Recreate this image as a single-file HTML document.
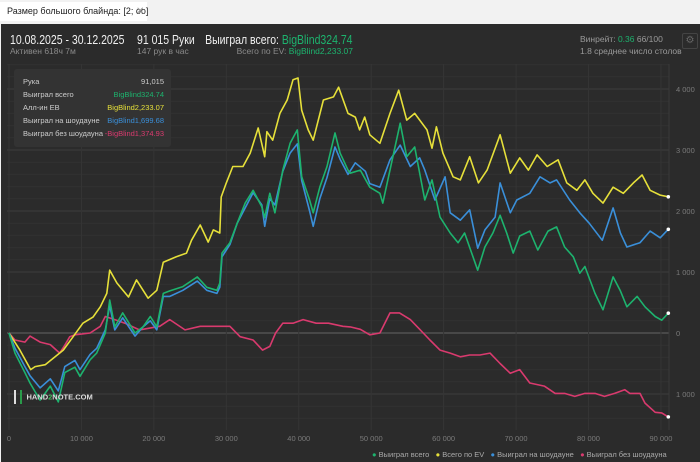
<!DOCTYPE html>
<html><head><meta charset="utf-8">
<style>
html,body{margin:0;padding:0;width:700px;height:462px;overflow:hidden;background:#f2f2f2;font-family:"Liberation Sans","Noto Sans CJK SC",sans-serif;}
.tab{position:absolute;left:0;top:2px;height:19px;width:147px;background:#fff;font-size:9px;color:#222;line-height:19px;padding-left:7px;box-sizing:border-box;white-space:nowrap;}
.tab .x{position:absolute;left:136px;top:0;color:#999;font-size:10px;}
.panel{position:absolute;left:1px;top:24px;width:699px;height:438px;background:#2b2b2b;}
.t{position:absolute;white-space:nowrap;}
.h{font-size:12.5px;color:#f0f0f0;transform:scaleX(0.84);transform-origin:left top;}
.hr{font-size:12.5px;color:#f0f0f0;transform:scaleX(0.84);transform-origin:right top;}
.s{font-size:8.5px;color:#8a8a8a;}
</style></head><body>
<div class="tab">Размер большого блайнда: [2; oo]<span class="x">✕</span></div>
<div class="panel"></div>
<div class="t h" style="left:10px;top:33px;">10.08.2025 - 30.12.2025</div>
<div class="t s" style="left:10px;top:46px;">Активен 618ч 7м</div>
<div class="t h" style="left:137px;top:33px;">91 015 Руки</div>
<div class="t s" style="left:137px;top:46px;">147 рук в час</div>
<div class="t hr" style="right:347px;top:33px;">Выиграл всего: <span style="color:#1db36e">BigBlind324.74</span></div>
<div class="t s" style="right:347px;top:46px;">Всего по EV: <span style="color:#1db36e">BigBlind2,233.07</span></div>
<div class="t" style="left:580px;top:34px;font-size:8.5px;color:#9a9a9a;">Винрейт: <span style="color:#1db36e">0.36</span> 66/100</div>
<div class="t" style="left:580px;top:46px;font-size:8.5px;color:#9a9a9a;">1.8 среднее число столов</div>
<div class="t" style="left:682px;top:33px;width:14px;height:14px;border:1px solid #444;border-radius:2px;color:#666;font-size:10px;line-height:14px;text-align:center;">⚙</div>
<svg id="chart" width="700" height="462" style="position:absolute;left:0;top:0"></svg>
<div class="t" style="left:14px;top:69px;width:157px;height:78px;background:#333;border-radius:3px;font-size:7.5px;color:#ccc;">
<div class="t" style="left:9px;top:8px">Рука</div><div class="t" style="right:7px;top:8px">91,015</div>
<div class="t" style="left:9px;top:21px">Выиграл всего</div><div class="t" style="right:7px;top:21px;color:#1db36e">BigBlind324.74</div>
<div class="t" style="left:9px;top:34px">Алл-ин ЕВ</div><div class="t" style="right:7px;top:34px;color:#e6e03a">BigBlind2,233.07</div>
<div class="t" style="left:9px;top:47px">Выиграл на шоудауне</div><div class="t" style="right:7px;top:47px;color:#3a8fd9">BigBlind1,699.68</div>
<div class="t" style="left:9px;top:60px">Выиграл без шоудауна</div><div class="t" style="right:7px;top:60px;color:#d93a6e">-BigBlind1,374.93</div>
</div>
<div class="t" style="left:14px;top:388px;"><span style="display:inline-block;width:8px;height:14px;border-left:2px solid #ddd;border-right:2px solid #2a9a4a;vertical-align:middle;box-sizing:border-box"></span> <span style="font-size:7.5px;font-weight:bold;color:#ddd;vertical-align:middle">HAND<span style="color:#3fbf5f">2</span>NOTE.COM</span></div>
<div class="t" style="left:372px;top:450px;font-size:7.5px;color:#aaa;">
<span><span style="color:#1db36e">●</span> Выиграл всего</span>&nbsp;&nbsp;
<span><span style="color:#e6e03a">●</span> Всего по EV</span>&nbsp;&nbsp;
<span><span style="color:#3a8fd9">●</span> Выиграл на шоудауне</span>&nbsp;&nbsp;
<span><span style="color:#d93a6e">●</span> Выиграл без шоудауна</span>
</div>
<script>
const xTicks=[0,10000,20000,30000,40000,50000,60000,70000,80000,90000];
const xTickLabels=["0","10 000","20 000","30 000","40 000","50 000","60 000","70 000","80 000","90 000"];
const yTicks=[4000,3000,2000,1000,0,-1000];
const yTickLabels=["4 000","3 000","2 000","1 000","0","1 000"];
const greenHands=[0,830,2200,2900,4300,5700,6800,7700,9100,9800,11200,12100,13300,13900,14600,15700,17400,18500,19500,20400,21300,22200,24000,26000,27300,28700,29100,29400,30500,31500,32600,33700,34900,35300,36000,36700,37800,38800,39800,40400,41500,42000,42900,43900,45000,45700,46800,47100,48500,49800,51200,51600,53000,54000,54900,56000,57400,58400,59500,60900,62000,62900,64700,65700,66800,67800,68700,69600,70500,71900,73000,74400,75600,76700,77900,78800,79500,80900,82000,83400,84400,85300,86700,87800,89200,90100,91015];
const greenVals=[0,-330,-650,-820,-1100,-870,-1130,-650,-560,-710,-440,-330,0,540,100,330,0,100,270,100,650,690,760,920,750,700,820,1310,1480,1800,2130,2340,2070,1890,2290,1970,2670,3110,3330,2560,2180,1970,2390,2730,3280,2950,2670,2620,2670,2390,2290,2130,2890,3440,2890,3050,2180,2510,1900,1640,1480,1640,1030,1410,1640,1930,1640,1310,1590,1670,1360,1670,1740,1410,1250,980,1090,650,380,920,690,430,600,430,270,210,325];
const blueHands=greenHands.slice(0,47).concat([47800,49200,49800,51200,52600,54000,55400,56700,57400,58800,60200,60900,62300,63600,64700,65700,67100,67800,69200,70100,71900,73300,74700,75600,77400,78800,80100,81900,83400,84400,85300,87100,88500,89900,91015]);
const blueVals=[0,-250,-550,-700,-900,-750,-950,-550,-450,-600,-350,-250,50,450,50,250,-50,100,200,50,600,600,700,850,700,650,750,1250,1450,1800,2050,2300,2100,1750,2200,2100,2650,2950,3100,2500,2000,1750,2200,2550,3050,2850,2600,2790,2650,2450,2390,2840,3080,2730,2870,2670,2180,2560,1970,1850,2020,1390,1690,1900,2460,1970,2180,2290,2560,2460,2510,2180,1970,1800,1520,2050,1640,1410,1480,1670,1560,1700];
const yellowHands=[0,1500,3000,3600,5000,7500,8800,10200,11600,12600,13500,13900,14900,16500,17600,19200,20400,21300,23100,24500,25200,26400,27500,28200,29100,29300,30000,30900,32300,33300,34400,35300,35600,36400,37400,38400,39200,39900,40400,41300,42000,43400,44800,45500,46800,47800,48400,49100,49800,51200,52600,53800,54900,56000,57700,58400,59000,59900,61300,62300,63600,64800,66000,67800,69200,70500,71700,72900,74300,75800,77000,78400,79500,80600,82000,83400,84800,86200,87400,88500,89900,91015];
const yellowVals=[0,-280,-600,-550,-520,-280,-70,160,260,430,650,1030,820,590,870,570,700,1160,1250,1310,1520,1770,1490,1690,1640,2230,2460,2730,2730,2950,3360,2890,3300,3160,3600,3820,4150,4180,3650,3330,3160,3820,3870,4030,3600,3540,3330,3540,3250,3110,3600,3980,3490,3600,3330,3030,3380,2950,2560,2510,2890,2460,2670,3250,2620,2870,2670,2920,2730,2840,2460,2340,2510,2290,2130,2390,2290,2460,2590,2340,2260,2233];
const redHands=[0,830,2200,2900,4300,5700,7000,7700,8400,9100,11200,12600,13300,14600,16000,18000,20800,22200,24300,26400,28400,30500,31900,33700,35000,36000,36800,37800,39200,40600,42400,44100,46100,47100,48500,49800,51200,52600,53900,55400,56700,58100,59500,60900,62300,63600,65000,66400,67800,69200,70500,71900,73900,75400,76700,78100,79500,80900,82200,83600,85000,85700,87100,87800,89200,90100,91015];
const redVals=[0,-115,-150,-50,-150,-190,-330,-200,-60,-30,0,110,270,220,160,50,110,220,50,110,110,110,-60,-115,-280,-220,0,160,160,220,160,160,110,100,60,-30,0,330,330,220,60,-115,-280,-330,-390,-360,-360,-330,-500,-660,-600,-820,-870,-990,-990,-1040,-990,-990,-1040,-990,-930,-990,-990,-1150,-1300,-1310,-1375];
const NS="http://www.w3.org/2000/svg";
const svg=document.getElementById('chart');
const X=h=>9+h*0.007244;
const Y=v=>333-v*0.061;
function mk(tag,attrs){const e=document.createElementNS(NS,tag);for(const k in attrs)e.setAttribute(k,attrs[k]);svg.appendChild(e);return e;}
for(let v=-1400;v<=4400;v+=200){
  if(Y(v)<64||Y(v)>430)continue;
  const major=v%1000===0;
  const l=mk('line',{x1:7,x2:669,y1:Y(v),y2:Y(v),stroke:v===0?'#5a5a5a':(major?'#3e3e3e':'#323232'),'stroke-width':v===0?1.2:1});
  
  
}
xTicks.forEach((h,i)=>{
  const l=mk('line',{x1:X(h),x2:X(h),y1:64,y2:430,stroke:'#353535'});
  
  
  const t=mk('text',{x:X(h),y:441,fill:'#7a7a7a','font-size':7.5,'text-anchor':'middle','font-family':'Liberation Sans, sans-serif'});
  t.textContent=xTickLabels[i];
  
  
});
const ln=mk('line',{x1:669,x2:669,y1:64,y2:430,stroke:'#3a3a3a'});


yTicks.forEach((v,i)=>{
  const t=mk('text',{x:676,y:Y(v)+3,fill:'#7a7a7a','font-size':7.5,'font-family':'Liberation Sans, sans-serif'});
  t.textContent=yTickLabels[i];
  
  
});
function series(hs,vs,color,name){
  const p=mk('polyline',{points:hs.map((h,i)=>X(h).toFixed(1)+','+Y(vs[i]).toFixed(1)).join(' '),fill:'none',stroke:color,'stroke-width':1.6,'stroke-linejoin':'round'});
  
  
  const c=mk('circle',{cx:X(hs[hs.length-1]),cy:Y(vs[vs.length-1]),r:1.8,fill:'#fff'});
  
  
}
series(redHands,redVals,'#d93a6e','line-nonshowdown');
series(yellowHands,yellowVals,'#e6e03a','line-ev');
series(blueHands,blueVals,'#3a8fd9','line-showdown');
series(greenHands,greenVals,'#1db36e','line-total');
</script>
</body></html>
